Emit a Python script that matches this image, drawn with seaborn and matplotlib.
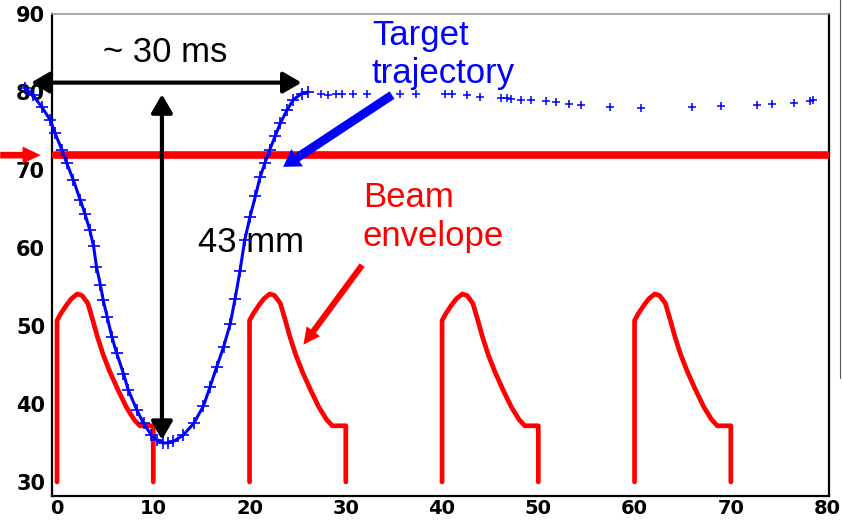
import pandas as pd
import seaborn as sns
import matplotlib.pyplot as plt
from matplotlib.ticker import MultipleLocator
from matplotlib.lines import Line2D

# target trajectory (time in ms, position in mm) - dense part of the dip
traj_t = [-3.3, -2.5, -1.6, -0.7, -0.2, 0.5, 1.0, 1.7, 2.4, 2.9, 3.4, 3.8, 4.1, 4.5,
          4.8, 5.2, 5.7, 6.2, 6.9, 7.4, 8.3, 9.0, 9.8, 10.4, 11.0, 11.5, 12.1, 13.1,
          14.2, 15.2, 15.9, 16.6, 17.3, 18.0, 18.5, 19.0, 19.5, 20.05, 20.6, 21.1,
          21.6, 22.1, 22.65, 23.2, 23.9, 24.55, 25.4, 26.1]
traj_y = [80.5, 79.6, 78.1, 76.4, 74.7, 72.6, 70.9, 68.7, 66.2, 64.4, 62.3, 60.2, 57.6, 55.3,
          53.3, 51.2, 48.6, 46.5, 43.9, 41.8, 39.2, 37.5, 36.0, 35.4, 35.0, 35.0, 35.2, 36.0,
          37.5, 39.7, 42.2, 44.8, 47.3, 50.3, 53.5, 57.0, 61.0, 64.0, 66.6, 69.1,
          70.9, 72.6, 74.3, 76.0, 77.7, 79.0, 79.8, 80.0]

# sparse points once the target is back out
rest_t = [27.4, 28.2, 29.0, 29.6, 30.7, 32.2, 35.6, 37.3, 40.3, 41.0, 42.6, 43.9, 46.1,
          46.7, 47.2, 48.2, 49.2, 50.8, 51.8, 53.2, 54.4, 57.4, 60.7, 66.0, 69.0, 72.7,
          74.3, 76.6, 78.2, 78.5]
rest_y = [79.7, 79.6, 79.7, 79.7, 79.7, 79.8, 79.7, 79.8, 79.7, 79.7, 79.6, 79.4, 79.2,
          79.2, 79.1, 79.0, 79.0, 78.8, 78.7, 78.5, 78.3, 78.1, 78.0, 78.1, 78.2, 78.3,
          78.5, 78.6, 78.9, 79.0]

# one beam envelope pulse (time from pulse start, mm) and the pulse start times
pulse_dt = [0, 0, 0.4, 1.0, 1.5, 2.1, 2.6, 3.2, 3.7, 4.2, 4.8, 5.5, 6.3, 7.2, 8.0, 8.6, 10.0, 10.0]
pulse_y = [30, 50.7, 51.6, 52.7, 53.5, 54.1, 53.9, 52.9, 50.8, 48.6, 46.3, 44.1, 41.9, 39.6,
           38.0, 37.2, 37.2, 30]
pulse_starts = [0, 20, 40, 60]

beam_level = 71.9

x_ticks = [0, 10, 20, 30, 40, 50, 60, 70, 80]
y_ticks = [30, 40, 50, 60, 70, 80, 90]

sns.set_style("white")
plt.rcParams['font.family'] = ['Liberation Sans', 'DejaVu Sans']

fig = plt.figure(figsize=(8.43, 5.2), dpi=100)
ax = fig.add_axes([0.0617, 0.0462, 0.9217, 0.9269])

pulses = pd.DataFrame({
    't': [s + d for s in pulse_starts for d in pulse_dt],
    'y': pulse_y * len(pulse_starts),
    'pulse': [s for s in pulse_starts for _ in pulse_dt],
})
sns.lineplot(data=pulses, x='t', y='y', units='pulse', estimator=None, sort=False,
             color='red', lw=3.4, ax=ax)

# beam level
ax.axhline(beam_level, xmin=0.004, color='red', lw=5.5, zorder=3)

# target trajectory
sns.lineplot(x=traj_t, y=traj_y, sort=False, estimator=None, color='blue', lw=2.2,
             marker='+', markersize=8, markeredgewidth=1.2, markeredgecolor='blue',
             clip_on=False, zorder=4, ax=ax)
sns.scatterplot(x=rest_t, y=rest_y, marker='+', color='blue', s=30, linewidth=1.1,
                zorder=4, ax=ax)

# annotations
ax.annotate('', xy=(25.4, 81.2), xytext=(-2.7, 81.2), annotation_clip=False,
            arrowprops=dict(arrowstyle='<|-|>,head_length=0.55,head_width=0.32',
                            mutation_scale=20, color='black', lw=3, shrinkA=0, shrinkB=0))
ax.annotate('', xy=(10.9, 79.7), xytext=(10.9, 35.4), annotation_clip=False,
            arrowprops=dict(arrowstyle='<|-|>,head_length=0.55,head_width=0.32',
                            mutation_scale=20, color='black', lw=3, shrinkA=0, shrinkB=0))
ax.annotate('', xy=(23.5, 70.4), xytext=(34.8, 79.6),
            arrowprops=dict(arrowstyle='simple,head_length=0.6,head_width=0.75,tail_width=0.32',
                            mutation_scale=20, color='blue', lw=0, shrinkA=0, shrinkB=0),
            zorder=5)
ax.annotate('', xy=(25.6, 47.6), xytext=(31.7, 57.8),
            arrowprops=dict(arrowstyle='simple,head_length=0.6,head_width=0.6,tail_width=0.22',
                            mutation_scale=20, color='red', lw=0, shrinkA=0, shrinkB=0))
ax.annotate('', xy=(-1.7, beam_level), xytext=(-5.9, beam_level), annotation_clip=False,
            arrowprops=dict(arrowstyle='simple,head_length=0.65,head_width=0.62,tail_width=0.24',
                            mutation_scale=20, color='red', lw=0, shrinkA=0, shrinkB=0))

ax.text(4.8, 83.85, '~ 30 ms', fontsize=25, color='black')
ax.text(14.65, 59.5, '43 mm', fontsize=25, color='black')
ax.text(32.7, 86.0, 'Target', fontsize=25, color='blue')
ax.text(32.7, 81.2, 'trajectory', fontsize=25, color='blue')
ax.text(31.8, 65.3, 'Beam', fontsize=25, color='red')
ax.text(31.7, 60.2, 'envelope', fontsize=25, color='red')

ax.set_xlim(-0.52, 80.2)
ax.set_ylim(28.2, 90)
ax.set_xlabel('')
ax.set_ylabel('')
ax.set_xticks(x_ticks, [str(v) for v in x_ticks], fontweight='bold',
              fontfamily='DejaVu Sans', fontsize=14)
ax.set_yticks(y_ticks, [str(v) for v in y_ticks], fontweight='bold',
              fontfamily='DejaVu Sans', fontsize=15)
ax.xaxis.set_minor_locator(MultipleLocator(2))
ax.yaxis.set_minor_locator(MultipleLocator(2))
ax.tick_params(which='both', direction='in', width=1.2, color='black', labelcolor='black')
ax.tick_params(axis='x', which='major', length=6, pad=2)
ax.tick_params(axis='x', which='minor', length=5)
ax.tick_params(axis='y', which='major', length=18, pad=5)
ax.tick_params(axis='y', which='minor', length=9)

ax.spines['top'].set_color('#999999')
ax.spines['top'].set_linewidth(1.2)
for side in ['left', 'right', 'bottom']:
    ax.spines[side].set_color('black')
    ax.spines[side].set_linewidth(1.6)

# thin frame edge at the far right of the original picture
fig.add_artist(Line2D([0.9964, 0.9964], [1.0, 0.273], color='#555555', lw=0.8))

plt.savefig('out.png')
